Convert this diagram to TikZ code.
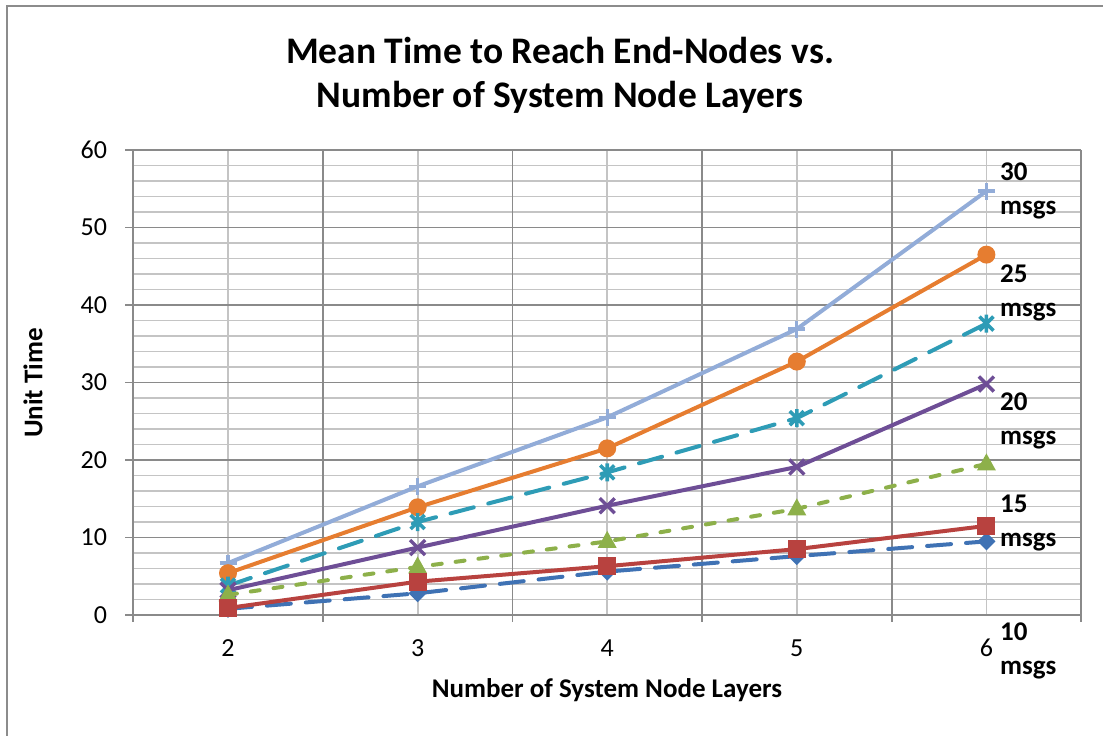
\documentclass[tikz,border=0pt]{standalone}
\usepackage{fontspec}
\setmainfont{Carlito}
\definecolor{framegray}{HTML}{8C8C8C}
\definecolor{majorgray}{HTML}{8A8A8A}
\definecolor{minorgray}{HTML}{C4C4C4}
\definecolor{sblue}{HTML}{3F72B4}
\definecolor{sred}{HTML}{B8423F}
\definecolor{sgreen}{HTML}{8DB04A}
\definecolor{spurple}{HTML}{6E4E96}
\definecolor{steal}{HTML}{2E9CB6}
\definecolor{sorange}{HTML}{E67D30}
\definecolor{slight}{HTML}{92ACD8}
\tikzset{
  outerframe/.style={draw=framegray, line width=2.2pt},
  minorgrid/.style={draw=minorgray, line width=1.8pt},
  majorgrid/.style={draw=majorgray, line width=1.8pt},
  ticklab/.style={font=\fontsize{26}{30}\selectfont, inner sep=0pt},
  axistitle/.style={font=\bfseries\fontsize{27}{32}\selectfont, inner sep=0pt},
  seriesname/.style={font=\bfseries\fontsize{27}{34}\selectfont, align=left, inner sep=0pt, anchor=base west},
  serline/.style={line width=4pt, line join=round},
  longdash/.style={serline, line cap=round, dash pattern=on 24pt off 15pt},
  shortdash/.style={serline, line cap=round, dash pattern=on 9pt off 14pt},
  mplus/.pic={\draw[line width=3.2pt] (-8.5pt,0) -- (8.5pt,0) (0,-8.5pt) -- (0,8.5pt);},
  mcircle/.pic={\fill (0,0) circle (9pt);},
  mstar/.pic={\draw[line width=3.6pt] (-7pt,-7pt) -- (7pt,7pt) (-7pt,7pt) -- (7pt,-7pt) (0,-9pt) -- (0,9pt);},
  mcross/.pic={\draw[line width=3.4pt] (-7.5pt,-7.5pt) -- (7.5pt,7.5pt) (-7.5pt,7.5pt) -- (7.5pt,-7.5pt);},
  mtri/.pic={\fill (0,10.5pt) -- (9.5pt,-6.5pt) -- (-9.5pt,-6.5pt) -- cycle;},
  msquare/.pic={\fill (-9pt,-9pt) rectangle (9pt,9pt);},
  mdiamond/.pic={\fill (0,9pt) -- (9pt,0) -- (0,-9pt) -- (-9pt,0) -- cycle;},
}
\begin{document}
\begin{tikzpicture}[x=1pt, y=-1pt]
\useasboundingbox (0,0) rectangle (1103,736);
% chart frame (open to the right and bottom)
\coordinate (fbl) at (7,736);
\coordinate (ftl) at (7,6);
\coordinate (ftr) at (1103,6);
\draw[outerframe] (fbl) -- (ftl) -- (ftr);

% title (base anchor sits on the last line)
\node[font=\bfseries\fontsize{37.5}{44}\selectfont, align=center, inner sep=0pt, anchor=base] (title)
  at (560,107) {Mean Time to Reach End-Nodes vs.\\Number of System Node Layers};

% axis titles
\node[axistitle, rotate=90] (ytitle) at (33,383) {Unit Time};
\node[axistitle] (xtitle) at (607,690) {Number of System Node Layers};

% plot area: x = layer - 2, y = unit time
\begin{scope}[shift={(228,615)}, x=189.6pt, y=7.75pt]
  \foreach \v in {2,4,...,58} \draw[minorgrid] (-0.5,\v) -- (4.5,\v);
  \foreach \c in {0,...,4} \draw[minorgrid] (\c,0) -- (\c,60);
  \foreach \v in {10,20,...,60} \draw[majorgrid] (-0.5,\v) -- ++(-8pt,0) (-0.5,\v) -- (4.5,\v);
  \foreach \c in {-0.5,0.5,1.5,2.5,3.5,4.5} \draw[majorgrid] (\c,0) -- ++(0,-7pt) (\c,0) -- (\c,60);
  \draw[majorgrid] (-0.5,0) -- ++(-8pt,0) (-0.5,0) -- (4.5,0);

  % tick labels
  \foreach \v in {0,10,...,60} \node[ticklab, anchor=east] (ylab\v) at ([xshift=-26pt]-0.5,\v) {\v};
  \foreach \c [evaluate=\c as \n using int(\c+2)] in {0,...,4}
    \node[ticklab] (xlab\n) at ([yshift=-33pt]\c,0) {\n};

  % 30 msgs
  \draw[serline, slight] (0,6.7) -- (1,16.6) -- (2,25.5) -- (3,36.9) -- (4,54.7);
  \foreach \c/\v in {0/6.7,1/16.6,2/25.5,3/36.9,4/54.7} \pic[slight] at (\c,\v) {mplus};
  % 25 msgs
  \draw[serline, sorange] (0,5.4) -- (1,13.9) -- (2,21.5) -- (3,32.7) -- (4,46.5);
  \foreach \c/\v in {0/5.4,1/13.9,2/21.5,3/32.7,4/46.5} \pic[sorange] at (\c,\v) {mcircle};
  % teal series
  \draw[longdash, steal] (0,3.8) -- (1,12.0) -- (2,18.4) -- (3,25.4) -- (4,37.6);
  \foreach \c/\v in {0/3.8,1/12.0,2/18.4,3/25.4,4/37.6} \pic[steal] at (\c,\v) {mstar};
  % purple series
  \draw[serline, spurple] (0,3.2) -- (1,8.7) -- (2,14.1) -- (3,19.1) -- (4,29.8);
  \foreach \c/\v in {0/3.2,1/8.7,2/14.1,3/19.1,4/29.8} \pic[spurple] at (\c,\v) {mcross};
  % green series
  \draw[shortdash, sgreen] (0,2.6) -- (1,6.2) -- (2,9.5) -- (3,13.7) -- (4,19.5);
  \foreach \c/\v in {0/2.6,1/6.2,2/9.5,3/13.7,4/19.5} \pic[sgreen] at (\c,\v) {mtri};
  % blue series
  \draw[longdash, sblue] (0,0.8) -- (1,2.8) -- (2,5.6) -- (3,7.6) -- (4,9.5);
  \foreach \c/\v in {0/0.8,1/2.8,2/5.6,3/7.6,4/9.5} \pic[sblue] at (\c,\v) {mdiamond};
  % red series
  \draw[serline, sred] (0,0.9) -- (1,4.3) -- (2,6.3) -- (3,8.5) -- (4,11.5);
  \foreach \c/\v in {0/0.9,1/4.3,2/6.3,3/8.5,4/11.5} \pic[sred] at (\c,\v) {msquare};
\end{scope}

% series names (base anchor sits on the "msgs" line)
\node[seriesname] (n30) at (1000,214) {30\\msgs};
\node[seriesname] (n25) at (1000,316) {25\\msgs};
\node[seriesname] (n20) at (1000,444) {20\\msgs};
\node[seriesname] (n15) at (1000,546) {15\\msgs};
\node[seriesname] (n10) at (1000,674) {10\\msgs};
\end{tikzpicture}
\end{document}
